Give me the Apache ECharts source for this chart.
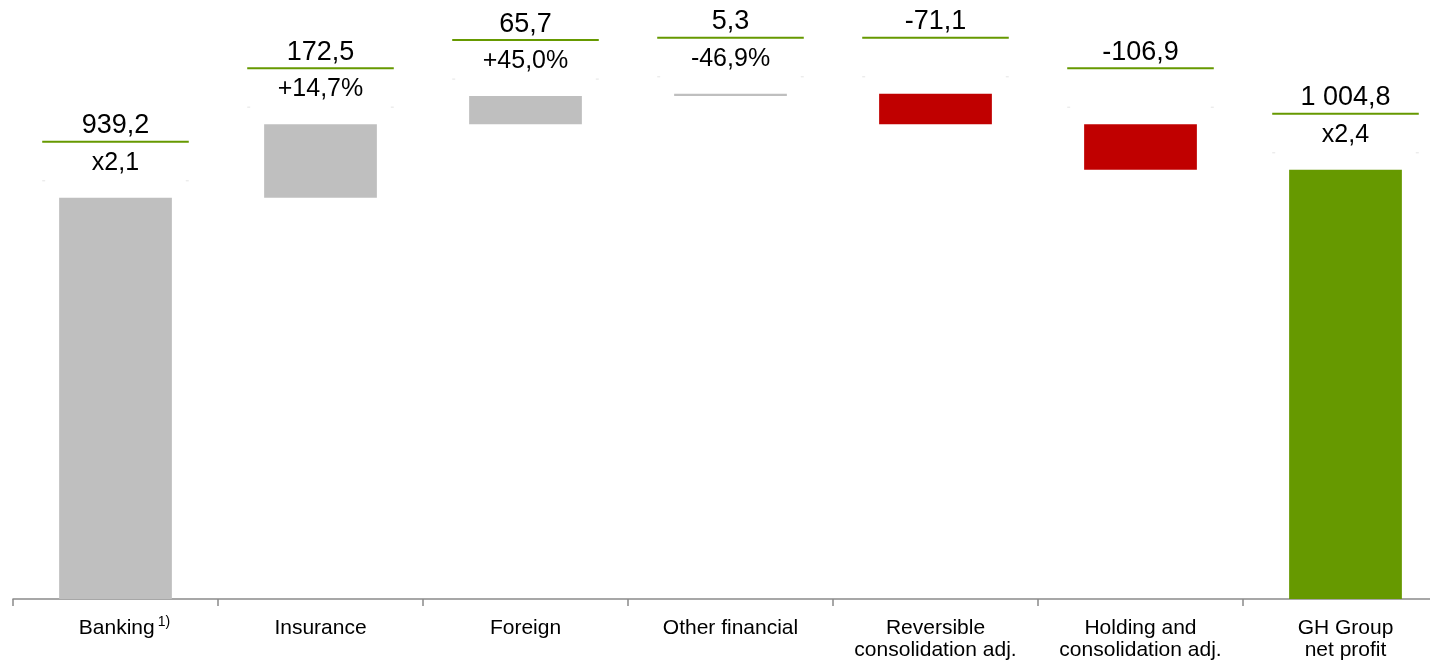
<!DOCTYPE html>
<html>
<head>
<meta charset="utf-8">
<title>GH Group net profit bridge</title>
<script src="https://cdn.jsdelivr.net/npm/echarts@6/dist/echarts.min.js"></script>
<style>
  html, body { margin: 0; padding: 0; background: #ffffff; overflow: hidden; }
  /* the axis runs a little past the right edge of the page */
  #chart { width: 1452px; height: 662px; }
</style>
</head>
<body>
<div id="chart"></div>
<script>
// Net profit contributions by segment (first and last bars are totals)
const categories = ['Banking', 'Insurance', 'Foreign', 'Other financial',
  'Reversible\nconsolidation adj.', 'Holding and\nconsolidation adj.', 'GH Group\nnet profit'];
const footnotes = ['1)', '', '', '', '', '', ''];
const values = [939.2, 172.5, 65.7, 5.3, -71.1, -106.9, 1004.8];
const isTotal = [true, false, false, false, false, false, true];
const changeLabels = ['x2,1', '+14,7%', '+45,0%', '-46,9%', '', '', 'x2,4'];

const GREY = '#BFBFBF';
const RED = '#C00000';
const GREEN = '#669900';
const FONT = '"Liberation Sans", Arial, sans-serif';

// Format with decimal comma and a space as thousands separator
function fmt(v) {
  const s = Math.abs(v).toFixed(1).split('.');
  const int = s[0].replace(/\B(?=(\d{3})+(?!\d))/g, ' ');
  return (v < 0 ? '-' : '') + int + ',' + s[1];
}

// Build floating segments [index, low, high] with their colour
let running = 0;
const segments = values.map((v, i) => {
  let lo, hi, color;
  if (isTotal[i]) {
    lo = 0; hi = v; running = v;
    color = i === 0 ? GREY : GREEN;
  } else {
    const start = running;
    running = start + v;
    lo = Math.min(start, running);
    hi = Math.max(start, running);
    color = v < 0 ? RED : GREY;
  }
  return { value: [i, lo, hi], color: color };
});

function renderItem(params, api) {
  const i = params.dataIndex;
  const seg = segments[i];
  const pLo = api.coord([i, api.value(1)]);
  const pHi = api.coord([i, api.value(2)]);
  const cw = api.size([1, 0])[0];
  const bw = cw * 0.55;
  const lw = cw * 0.715;
  const cx = pLo[0];
  const top = pHi[1];
  const children = [
    {
      type: 'rect',
      shape: { x: cx - bw / 2, y: top, width: bw, height: Math.max(pLo[1] - top, 1) },
      style: { fill: seg.color }
    },
    {
      type: 'text',
      style: {
        text: fmt(values[i]), x: cx, y: top - 72,
        align: 'center', verticalAlign: 'middle',
        fontSize: 27, fontFamily: FONT, fill: '#000000'
      }
    },
    {
      type: 'line',
      shape: { x1: cx - lw / 2, y1: top - 56, x2: cx + lw / 2, y2: top - 56 },
      style: { stroke: GREEN, lineWidth: 2 }
    },
    // faint end marks of the label box
    {
      type: 'line',
      shape: { x1: cx - lw / 2, y1: top - 17, x2: cx - lw / 2 + 3, y2: top - 17 },
      style: { stroke: '#e4e4e4', lineWidth: 1 }
    },
    {
      type: 'line',
      shape: { x1: cx + lw / 2 - 3, y1: top - 17, x2: cx + lw / 2, y2: top - 17 },
      style: { stroke: '#e4e4e4', lineWidth: 1 }
    }
  ];
  if (changeLabels[i]) {
    children.push({
      type: 'text',
      style: {
        text: changeLabels[i], x: cx, y: top - 35,
        align: 'center', verticalAlign: 'middle',
        fontSize: 25, fontFamily: FONT, fill: '#000000'
      }
    });
  }
  return { type: 'group', children: children };
}

const chart = echarts.init(document.getElementById('chart'), null, { renderer: 'canvas' });
chart.setOption({
  animation: false,
  backgroundColor: '#ffffff',
  grid: { left: 13, top: 1, right: 4, bottom: 63, containLabel: false },
  xAxis: {
    type: 'category',
    data: categories,
    boundaryGap: true,
    axisLine: { show: true, lineStyle: { color: '#8a8a8a', width: 1.5 } },
    axisTick: { show: true, interval: 0, length: 7, lineStyle: { color: '#8a8a8a', width: 1.5 } },
    axisLabel: {
      interval: 0,
      margin: 18,
      color: '#000000',
      fontFamily: FONT,
      fontSize: 21,
      lineHeight: 22,
      formatter: function (val, idx) {
        const note = footnotes[idx];
        return note ? '{pad|}' + val + '{sup|' + note + '}' : val;
      },
      rich: {
        pad: { width: 18 },
        sup: { fontSize: 14, fontFamily: FONT, color: '#000000', padding: [0, 0, 12, 3] }
      }
    },
    splitLine: { show: false }
  },
  yAxis: {
    type: 'value',
    min: 0,
    max: 1400,
    show: false,
    splitLine: { show: false }
  },
  series: [{
    type: 'custom',
    renderItem: renderItem,
    data: segments.map(s => s.value),
    encode: { x: 0, y: [1, 2] },
    clip: false
  }]
});
</script>
</body>
</html>
